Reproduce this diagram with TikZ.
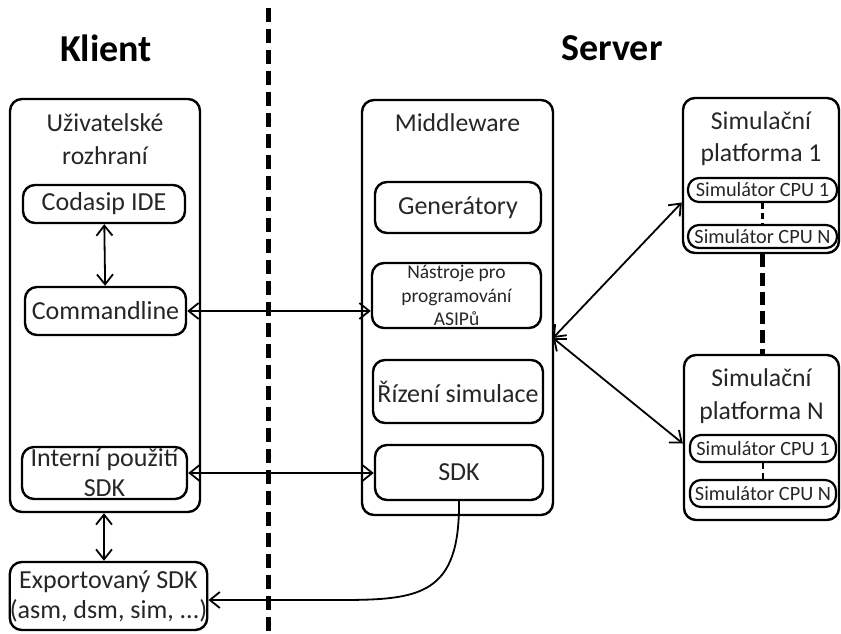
\documentclass[tikz,border=0pt]{standalone}
\usepackage{fontspec}
\setmainfont{Carlito}
\usetikzlibrary{arrows.meta}

\definecolor{ink}{HTML}{262626}

\begin{document}
\begin{tikzpicture}[x=1pt,y=-1pt,
  every node/.style={text=ink},
  outerbox/.style={draw=black, line width=2.4pt, rounded corners=12pt,
    minimum width=#1, inner sep=0pt},
  inbox/.style={draw=black, line width=2.4pt, rounded corners=12pt,
    inner sep=0pt, align=center, font=\fontsize{26}{30}\selectfont},
  pill/.style={draw=black, line width=2.2pt, rounded corners=11pt,
    inner sep=0pt, font=\fontsize{20.3}{22}\selectfont},
  title/.style={align=center, font=\fontsize{25.7}{32.5}\selectfont, inner sep=0pt},
  heading/.style={font=\fontsize{38}{42}\selectfont\bfseries, text=black, inner sep=0pt},
  link/.style={line width=1.8pt, {Straight Barb[length=10pt,width=16pt,line width=1.8pt]}-{Straight Barb[length=10pt,width=16pt,line width=1.8pt]}},
  oneway/.style={line width=1.8pt, -{Straight Barb[length=10pt,width=16pt,line width=1.8pt]}},
  divider/.style={line width=5pt, dash pattern=on 14pt off 7pt},
  thin dash/.style={line width=2.2pt, dash pattern=on 6pt off 4pt}
]
\useasboundingbox (0,0) rectangle (841,634);

% headings
\node[heading] (klient) at (106,48) {Klient};
\node[heading] (server) at (612,48) {Server};

% client / server divider
\coordinate (divtop) at (268,8);
\coordinate (divbot) at (268,640);
\draw[divider] (divtop) -- (divbot);

% ---- client side ----
\node[outerbox=190pt, minimum height=413pt] (ui) at (105,305.5) {};
\node[title] (uit) at (105,139) {Uživatelské\\rozhraní};
\node[inbox, minimum width=162pt, minimum height=38pt] (ide) at (104,204) {Codasip IDE};
\node[inbox, minimum width=161pt, minimum height=48pt] (cmd) at (105.5,311) {Commandline};
\node[inbox, minimum width=165pt, minimum height=52pt] (int) at (104.5,473) {Interní použití\\SDK};
\node[inbox, minimum width=193pt, minimum height=68pt] (exp) at (108.5,596) {Exportovaný SDK\\(asm, dsm, sim, ...)};

% ---- middleware ----
\node[outerbox=191pt, minimum height=415pt] (mw) at (457.5,307.5) {};
\node[title] (mwt) at (457.5,123) {Middleware};
\node[inbox, minimum width=166pt, minimum height=51pt] (gen) at (458,207.5) {Generátory};
\node[inbox, minimum width=169pt, minimum height=65pt, font=\fontsize{19.5}{23.5}\selectfont] (nas) at (456.5,295.5) {Nástroje pro\\programování\\ASIPů};
\node[inbox, minimum width=170pt, minimum height=63pt] (riz) at (458,391.5) {Řízení simulace};
\node[inbox, minimum width=168pt, minimum height=55pt] (sdk) at (459,472.5) {SDK};

% ---- simulation platforms ----
\node[outerbox=156pt, minimum height=155pt] (p1) at (761,175.5) {};
\node[title] (p1t) at (761,138.5) {Simulační\\platforma 1};
\node[pill, minimum width=149pt, minimum height=24pt] (p1a) at (762.5,190) {Simulátor CPU 1};
\node[pill, minimum width=149pt, minimum height=23pt] (p1b) at (762.5,236.5) {Simulátor CPU N};

\node[outerbox=155pt, minimum height=165pt] (pn) at (761.5,437.5) {};
\node[title] (pnt) at (761.5,396) {Simulační\\platforma N};
\node[pill, minimum width=146pt, minimum height=27pt] (pna) at (763,448.5) {Simulátor CPU 1};
\node[pill, minimum width=146pt, minimum height=27pt] (pnb) at (763,493.5) {Simulátor CPU N};

% dashed continuations
\draw[thin dash] (p1a) -- (p1b);
\draw[thin dash] (pna) -- (pnb);
\draw[line width=4.5pt, dash pattern=on 13pt off 6pt] (p1.south -| p1a) -- (pn.north -| p1a);

% ---- connectors ----
\draw[link] (ide) -- (cmd);
\draw[link] (ui.south -| 104,0) -- (exp.north -| 104,0);
\draw[link] (cmd.east) -- (cmd.east -| nas.west);
\draw[link] (int.east) -- (int.east -| sdk.west);

\coordinate (hub) at (553,338);
\draw[link] (hub) -- ([yshift=-27pt]p1.west);
\draw[link] (hub) -- ([yshift=-6pt]pn.west);

\coordinate (bend) at (340,600);
\draw[oneway] (sdk.south) .. controls (460,595) and (420,600) .. (bend) -- (exp.east |- bend);
\end{tikzpicture}
\end{document}
